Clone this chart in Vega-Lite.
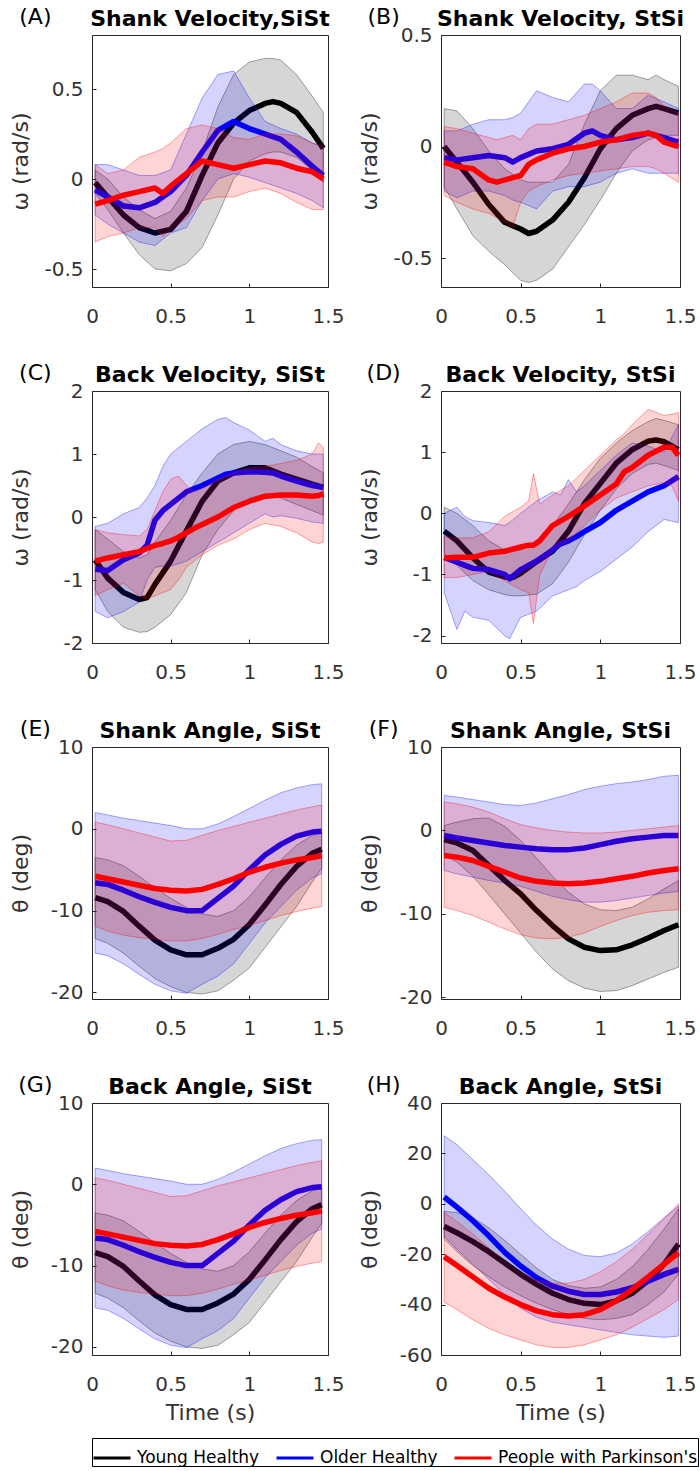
{
"$schema": "https://vega.github.io/schema/vega-lite/v6.json",
"background": "white",
"padding": {"left": 8, "top": 5, "right": 5, "bottom": 2},
"columns": 2,
"spacing": {"row": 104, "column": 113},
"bounds": "flush",
"config": {
 "view": {"stroke": "#262626", "strokeWidth": 1},
 "font": "DejaVu Sans",
 "axis": {"grid": false, "domain": false, "ticks": true, "tickSize": -4, "tickColor": "#262626", "labelFont": "DejaVu Sans", "labelFontSize": 20, "labelColor": "#333333", "titleFont": "DejaVu Sans", "titleFontSize": 22, "titleFontWeight": "normal", "titleColor": "#333333"},
 "axisX": {"labelPadding": 23, "titlePadding": 8, "labelFlush": false, "labelExpr": "format(datum.value, '~g')"},
 "axisY": {"labelPadding": 13, "minExtent": 48, "maxExtent": 48, "titlePadding": 12},
 "legend": {"orient": "bottom", "direction": "horizontal", "symbolType": "stroke", "symbolSize": 1369, "symbolStrokeWidth": 3, "labelFont": "DejaVu Sans", "labelFontSize": 17, "labelColor": "#000000", "labelLimit": 0, "strokeColor": "#000000", "fillColor": "#ffffff", "padding": 0, "columnPadding": 10, "labelOffset": 5, "offset": 14}
},
"datasets": {
"d": [
{"p":"A","g":"Y","t":0.02,"m":-0.02,"lo":-0.08,"hi":0.05},
{"p":"A","g":"Y","t":0.1,"m":-0.1,"lo":-0.17,"hi":0},
{"p":"A","g":"Y","t":0.2,"m":-0.2,"lo":-0.3,"hi":-0.1},
{"p":"A","g":"Y","t":0.3,"m":-0.27,"lo":-0.42,"hi":-0.17},
{"p":"A","g":"Y","t":0.4,"m":-0.3,"lo":-0.5,"hi":-0.22},
{"p":"A","g":"Y","t":0.5,"m":-0.28,"lo":-0.51,"hi":-0.18},
{"p":"A","g":"Y","t":0.6,"m":-0.18,"lo":-0.47,"hi":-0.05},
{"p":"A","g":"Y","t":0.7,"m":0.02,"lo":-0.38,"hi":0.15},
{"p":"A","g":"Y","t":0.8,"m":0.2,"lo":-0.2,"hi":0.4},
{"p":"A","g":"Y","t":0.9,"m":0.31,"lo":0,"hi":0.58},
{"p":"A","g":"Y","t":1.0,"m":0.38,"lo":0.1,"hi":0.65},
{"p":"A","g":"Y","t":1.1,"m":0.42,"lo":0.14,"hi":0.67},
{"p":"A","g":"Y","t":1.15,"m":0.43,"lo":0.15,"hi":0.67},
{"p":"A","g":"Y","t":1.2,"m":0.42,"lo":0.15,"hi":0.66},
{"p":"A","g":"Y","t":1.3,"m":0.37,"lo":0.12,"hi":0.58},
{"p":"A","g":"Y","t":1.4,"m":0.26,"lo":0.05,"hi":0.46},
{"p":"A","g":"Y","t":1.47,"m":0.17,"lo":-0.02,"hi":0.37},
{"p":"A","g":"O","t":0.02,"m":-0.06,"lo":-0.2,"hi":0.08},
{"p":"A","g":"O","t":0.1,"m":-0.1,"lo":-0.25,"hi":0.08},
{"p":"A","g":"O","t":0.2,"m":-0.15,"lo":-0.3,"hi":0.05},
{"p":"A","g":"O","t":0.3,"m":-0.16,"lo":-0.35,"hi":0.02},
{"p":"A","g":"O","t":0.4,"m":-0.13,"lo":-0.37,"hi":0.02},
{"p":"A","g":"O","t":0.5,"m":-0.07,"lo":-0.3,"hi":0.05},
{"p":"A","g":"O","t":0.6,"m":0.02,"lo":-0.27,"hi":0.25},
{"p":"A","g":"O","t":0.7,"m":0.15,"lo":-0.12,"hi":0.45},
{"p":"A","g":"O","t":0.8,"m":0.27,"lo":0,"hi":0.58},
{"p":"A","g":"O","t":0.9,"m":0.32,"lo":0.03,"hi":0.6},
{"p":"A","g":"O","t":1.0,"m":0.28,"lo":0.01,"hi":0.45},
{"p":"A","g":"O","t":1.1,"m":0.25,"lo":-0.02,"hi":0.32},
{"p":"A","g":"O","t":1.2,"m":0.22,"lo":-0.05,"hi":0.28},
{"p":"A","g":"O","t":1.3,"m":0.15,"lo":-0.08,"hi":0.25},
{"p":"A","g":"O","t":1.4,"m":0.07,"lo":-0.12,"hi":0.2},
{"p":"A","g":"O","t":1.47,"m":0.02,"lo":-0.16,"hi":0.18},
{"p":"A","g":"P","t":0.02,"m":-0.14,"lo":-0.35,"hi":0.08},
{"p":"A","g":"P","t":0.1,"m":-0.12,"lo":-0.32,"hi":0.03},
{"p":"A","g":"P","t":0.2,"m":-0.09,"lo":-0.3,"hi":0.05},
{"p":"A","g":"P","t":0.3,"m":-0.07,"lo":-0.27,"hi":0.12},
{"p":"A","g":"P","t":0.4,"m":-0.05,"lo":-0.27,"hi":0.15},
{"p":"A","g":"P","t":0.45,"m":-0.08,"lo":-0.32,"hi":0.17},
{"p":"A","g":"P","t":0.5,"m":-0.04,"lo":-0.28,"hi":0.2},
{"p":"A","g":"P","t":0.6,"m":0.03,"lo":-0.22,"hi":0.28},
{"p":"A","g":"P","t":0.7,"m":0.1,"lo":-0.12,"hi":0.3},
{"p":"A","g":"P","t":0.8,"m":0.08,"lo":-0.1,"hi":0.28},
{"p":"A","g":"P","t":0.9,"m":0.06,"lo":-0.1,"hi":0.23},
{"p":"A","g":"P","t":1.0,"m":0.08,"lo":-0.07,"hi":0.22},
{"p":"A","g":"P","t":1.1,"m":0.1,"lo":-0.05,"hi":0.25},
{"p":"A","g":"P","t":1.2,"m":0.09,"lo":-0.08,"hi":0.25},
{"p":"A","g":"P","t":1.3,"m":0.06,"lo":-0.13,"hi":0.24},
{"p":"A","g":"P","t":1.4,"m":0.04,"lo":-0.17,"hi":0.2},
{"p":"A","g":"P","t":1.47,"m":0,"lo":-0.17,"hi":0.18},
{"p":"B","g":"Y","t":0.02,"m":0,"lo":-0.18,"hi":0.17},
{"p":"B","g":"Y","t":0.1,"m":-0.07,"lo":-0.28,"hi":0.16},
{"p":"B","g":"Y","t":0.2,"m":-0.16,"lo":-0.4,"hi":0.08},
{"p":"B","g":"Y","t":0.3,"m":-0.26,"lo":-0.47,"hi":-0.02},
{"p":"B","g":"Y","t":0.4,"m":-0.34,"lo":-0.53,"hi":-0.1},
{"p":"B","g":"Y","t":0.5,"m":-0.37,"lo":-0.6,"hi":-0.15},
{"p":"B","g":"Y","t":0.55,"m":-0.39,"lo":-0.61,"hi":-0.16},
{"p":"B","g":"Y","t":0.6,"m":-0.38,"lo":-0.6,"hi":-0.16},
{"p":"B","g":"Y","t":0.7,"m":-0.33,"lo":-0.55,"hi":-0.16},
{"p":"B","g":"Y","t":0.8,"m":-0.25,"lo":-0.45,"hi":-0.08},
{"p":"B","g":"Y","t":0.9,"m":-0.14,"lo":-0.35,"hi":0.1},
{"p":"B","g":"Y","t":1.0,"m":-0.01,"lo":-0.24,"hi":0.25},
{"p":"B","g":"Y","t":1.1,"m":0.08,"lo":-0.12,"hi":0.32},
{"p":"B","g":"Y","t":1.2,"m":0.14,"lo":-0.02,"hi":0.32},
{"p":"B","g":"Y","t":1.3,"m":0.17,"lo":0.03,"hi":0.3},
{"p":"B","g":"Y","t":1.35,"m":0.18,"lo":0.04,"hi":0.32},
{"p":"B","g":"Y","t":1.4,"m":0.17,"lo":0.05,"hi":0.3},
{"p":"B","g":"Y","t":1.49,"m":0.15,"lo":0.05,"hi":0.27},
{"p":"B","g":"O","t":0.02,"m":-0.05,"lo":-0.2,"hi":0.07},
{"p":"B","g":"O","t":0.1,"m":-0.06,"lo":-0.23,"hi":0.07},
{"p":"B","g":"O","t":0.2,"m":-0.05,"lo":-0.2,"hi":0.1},
{"p":"B","g":"O","t":0.3,"m":-0.04,"lo":-0.2,"hi":0.12},
{"p":"B","g":"O","t":0.4,"m":-0.05,"lo":-0.22,"hi":0.12},
{"p":"B","g":"O","t":0.45,"m":-0.07,"lo":-0.24,"hi":0.13},
{"p":"B","g":"O","t":0.5,"m":-0.05,"lo":-0.25,"hi":0.15},
{"p":"B","g":"O","t":0.6,"m":-0.02,"lo":-0.28,"hi":0.25},
{"p":"B","g":"O","t":0.7,"m":-0.01,"lo":-0.2,"hi":0.22},
{"p":"B","g":"O","t":0.8,"m":0.01,"lo":-0.18,"hi":0.2},
{"p":"B","g":"O","t":0.9,"m":0.06,"lo":-0.18,"hi":0.28},
{"p":"B","g":"O","t":0.95,"m":0.07,"lo":-0.17,"hi":0.28},
{"p":"B","g":"O","t":1.0,"m":0.05,"lo":-0.16,"hi":0.25},
{"p":"B","g":"O","t":1.1,"m":0.03,"lo":-0.12,"hi":0.17},
{"p":"B","g":"O","t":1.2,"m":0.04,"lo":-0.1,"hi":0.17},
{"p":"B","g":"O","t":1.3,"m":0.06,"lo":-0.12,"hi":0.23},
{"p":"B","g":"O","t":1.4,"m":0.04,"lo":-0.12,"hi":0.2},
{"p":"B","g":"O","t":1.49,"m":0.02,"lo":-0.12,"hi":0.17},
{"p":"B","g":"P","t":0.02,"m":-0.07,"lo":-0.22,"hi":0.09},
{"p":"B","g":"P","t":0.1,"m":-0.09,"lo":-0.25,"hi":0.08},
{"p":"B","g":"P","t":0.2,"m":-0.1,"lo":-0.28,"hi":0.06},
{"p":"B","g":"P","t":0.3,"m":-0.15,"lo":-0.3,"hi":0.04},
{"p":"B","g":"P","t":0.35,"m":-0.16,"lo":-0.32,"hi":0.03},
{"p":"B","g":"P","t":0.45,"m":-0.14,"lo":-0.36,"hi":0.05},
{"p":"B","g":"P","t":0.5,"m":-0.13,"lo":-0.25,"hi":0.03},
{"p":"B","g":"P","t":0.55,"m":-0.08,"lo":-0.2,"hi":0.08},
{"p":"B","g":"P","t":0.6,"m":-0.06,"lo":-0.18,"hi":0.1},
{"p":"B","g":"P","t":0.7,"m":-0.03,"lo":-0.15,"hi":0.1},
{"p":"B","g":"P","t":0.8,"m":-0.01,"lo":-0.13,"hi":0.12},
{"p":"B","g":"P","t":0.9,"m":0,"lo":-0.12,"hi":0.14},
{"p":"B","g":"P","t":1.0,"m":0.02,"lo":-0.11,"hi":0.17},
{"p":"B","g":"P","t":1.1,"m":0.03,"lo":-0.1,"hi":0.2},
{"p":"B","g":"P","t":1.2,"m":0.05,"lo":-0.09,"hi":0.24},
{"p":"B","g":"P","t":1.3,"m":0.06,"lo":-0.09,"hi":0.24},
{"p":"B","g":"P","t":1.35,"m":0.05,"lo":-0.1,"hi":0.22},
{"p":"B","g":"P","t":1.4,"m":0.02,"lo":-0.12,"hi":0.18},
{"p":"B","g":"P","t":1.49,"m":0,"lo":-0.16,"hi":0.15},
{"p":"C","g":"Y","t":0.02,"m":-0.68,"lo":-1.15,"hi":-0.2},
{"p":"C","g":"Y","t":0.1,"m":-0.97,"lo":-1.5,"hi":-0.35},
{"p":"C","g":"Y","t":0.2,"m":-1.2,"lo":-1.75,"hi":-0.55},
{"p":"C","g":"Y","t":0.3,"m":-1.31,"lo":-1.83,"hi":-0.65},
{"p":"C","g":"Y","t":0.35,"m":-1.28,"lo":-1.82,"hi":-0.6},
{"p":"C","g":"Y","t":0.4,"m":-1.07,"lo":-1.75,"hi":-0.4},
{"p":"C","g":"Y","t":0.5,"m":-0.7,"lo":-1.55,"hi":-0.05},
{"p":"C","g":"Y","t":0.6,"m":-0.22,"lo":-1.2,"hi":0.35},
{"p":"C","g":"Y","t":0.7,"m":0.25,"lo":-0.6,"hi":0.7},
{"p":"C","g":"Y","t":0.8,"m":0.57,"lo":-0.2,"hi":1.0},
{"p":"C","g":"Y","t":0.9,"m":0.7,"lo":0.1,"hi":1.15},
{"p":"C","g":"Y","t":1.0,"m":0.78,"lo":0.3,"hi":1.2},
{"p":"C","g":"Y","t":1.1,"m":0.78,"lo":0.35,"hi":1.15},
{"p":"C","g":"Y","t":1.2,"m":0.68,"lo":0.3,"hi":1.05},
{"p":"C","g":"Y","t":1.3,"m":0.6,"lo":0.2,"hi":0.95},
{"p":"C","g":"Y","t":1.4,"m":0.52,"lo":0.1,"hi":0.8},
{"p":"C","g":"Y","t":1.47,"m":0.47,"lo":0.03,"hi":0.7},
{"p":"C","g":"O","t":0.02,"m":-0.83,"lo":-1.5,"hi":-0.15},
{"p":"C","g":"O","t":0.1,"m":-0.85,"lo":-1.6,"hi":-0.1},
{"p":"C","g":"O","t":0.2,"m":-0.68,"lo":-1.5,"hi":0.05},
{"p":"C","g":"O","t":0.3,"m":-0.57,"lo":-1.35,"hi":0.15},
{"p":"C","g":"O","t":0.35,"m":-0.45,"lo":-1.0,"hi":0.3},
{"p":"C","g":"O","t":0.4,"m":-0.05,"lo":-0.8,"hi":0.5},
{"p":"C","g":"O","t":0.45,"m":0.1,"lo":-0.78,"hi":0.8},
{"p":"C","g":"O","t":0.5,"m":0.2,"lo":-0.78,"hi":1.0},
{"p":"C","g":"O","t":0.6,"m":0.4,"lo":-0.7,"hi":1.2},
{"p":"C","g":"O","t":0.7,"m":0.5,"lo":-0.55,"hi":1.4},
{"p":"C","g":"O","t":0.8,"m":0.62,"lo":-0.4,"hi":1.55},
{"p":"C","g":"O","t":0.85,"m":0.68,"lo":-0.33,"hi":1.58},
{"p":"C","g":"O","t":0.9,"m":0.7,"lo":-0.25,"hi":1.5},
{"p":"C","g":"O","t":1.0,"m":0.72,"lo":-0.1,"hi":1.38},
{"p":"C","g":"O","t":1.1,"m":0.71,"lo":0.05,"hi":1.2},
{"p":"C","g":"O","t":1.15,"m":0.7,"lo":0,"hi":1.25},
{"p":"C","g":"O","t":1.2,"m":0.65,"lo":0.02,"hi":1.15},
{"p":"C","g":"O","t":1.3,"m":0.57,"lo":-0.02,"hi":1.05},
{"p":"C","g":"O","t":1.4,"m":0.5,"lo":-0.08,"hi":1.0},
{"p":"C","g":"O","t":1.47,"m":0.47,"lo":-0.1,"hi":1.0},
{"p":"C","g":"P","t":0.02,"m":-0.7,"lo":-1.25,"hi":-0.2},
{"p":"C","g":"P","t":0.1,"m":-0.65,"lo":-1.15,"hi":-0.25},
{"p":"C","g":"P","t":0.2,"m":-0.6,"lo":-1.05,"hi":-0.28},
{"p":"C","g":"P","t":0.3,"m":-0.55,"lo":-1.25,"hi":-0.3},
{"p":"C","g":"P","t":0.35,"m":-0.5,"lo":-1.3,"hi":-0.2},
{"p":"C","g":"P","t":0.4,"m":-0.45,"lo":-1.25,"hi":0.1},
{"p":"C","g":"P","t":0.45,"m":-0.42,"lo":-1.2,"hi":0.4},
{"p":"C","g":"P","t":0.5,"m":-0.38,"lo":-1.15,"hi":0.6},
{"p":"C","g":"P","t":0.55,"m":-0.32,"lo":-1.0,"hi":0.65},
{"p":"C","g":"P","t":0.6,"m":-0.25,"lo":-0.8,"hi":0.5},
{"p":"C","g":"P","t":0.65,"m":-0.18,"lo":-0.7,"hi":0.4},
{"p":"C","g":"P","t":0.7,"m":-0.12,"lo":-0.6,"hi":0.45},
{"p":"C","g":"P","t":0.8,"m":0,"lo":-0.45,"hi":0.6},
{"p":"C","g":"P","t":0.9,"m":0.15,"lo":-0.35,"hi":0.7},
{"p":"C","g":"P","t":1.0,"m":0.25,"lo":-0.2,"hi":0.78},
{"p":"C","g":"P","t":1.1,"m":0.33,"lo":-0.1,"hi":0.8},
{"p":"C","g":"P","t":1.2,"m":0.35,"lo":-0.15,"hi":0.85},
{"p":"C","g":"P","t":1.3,"m":0.35,"lo":-0.25,"hi":0.9},
{"p":"C","g":"P","t":1.4,"m":0.33,"lo":-0.4,"hi":1.0},
{"p":"C","g":"P","t":1.44,"m":0.34,"lo":-0.42,"hi":1.18},
{"p":"C","g":"P","t":1.47,"m":0.37,"lo":-0.4,"hi":1.1},
{"p":"D","g":"Y","t":0.02,"m":-0.29,"lo":-0.65,"hi":0.1},
{"p":"D","g":"Y","t":0.1,"m":-0.45,"lo":-0.85,"hi":0},
{"p":"D","g":"Y","t":0.2,"m":-0.73,"lo":-1.1,"hi":-0.2},
{"p":"D","g":"Y","t":0.3,"m":-0.96,"lo":-1.25,"hi":-0.45},
{"p":"D","g":"Y","t":0.4,"m":-1.04,"lo":-1.33,"hi":-0.6},
{"p":"D","g":"Y","t":0.45,"m":-1.05,"lo":-1.35,"hi":-0.62},
{"p":"D","g":"Y","t":0.5,"m":-0.98,"lo":-1.35,"hi":-0.6},
{"p":"D","g":"Y","t":0.6,"m":-0.79,"lo":-1.32,"hi":-0.45},
{"p":"D","g":"Y","t":0.7,"m":-0.62,"lo":-1.15,"hi":-0.2},
{"p":"D","g":"Y","t":0.8,"m":-0.29,"lo":-0.8,"hi":0.15},
{"p":"D","g":"Y","t":0.9,"m":0.16,"lo":-0.35,"hi":0.55},
{"p":"D","g":"Y","t":1.0,"m":0.49,"lo":0.05,"hi":0.9},
{"p":"D","g":"Y","t":1.1,"m":0.82,"lo":0.4,"hi":1.15},
{"p":"D","g":"Y","t":1.2,"m":1.04,"lo":0.65,"hi":1.35},
{"p":"D","g":"Y","t":1.3,"m":1.18,"lo":0.8,"hi":1.5},
{"p":"D","g":"Y","t":1.35,"m":1.2,"lo":0.82,"hi":1.55},
{"p":"D","g":"Y","t":1.4,"m":1.17,"lo":0.78,"hi":1.52},
{"p":"D","g":"Y","t":1.49,"m":1.04,"lo":0.7,"hi":1.45},
{"p":"D","g":"O","t":0.02,"m":-0.72,"lo":-1.3,"hi":0},
{"p":"D","g":"O","t":0.1,"m":-0.8,"lo":-1.9,"hi":0.1},
{"p":"D","g":"O","t":0.15,"m":-0.85,"lo":-1.6,"hi":-0.05},
{"p":"D","g":"O","t":0.2,"m":-0.9,"lo":-1.7,"hi":-0.12},
{"p":"D","g":"O","t":0.3,"m":-0.92,"lo":-1.75,"hi":-0.15},
{"p":"D","g":"O","t":0.4,"m":-1.0,"lo":-2.0,"hi":-0.2},
{"p":"D","g":"O","t":0.43,"m":-1.07,"lo":-2.05,"hi":-0.15},
{"p":"D","g":"O","t":0.5,"m":-0.92,"lo":-1.7,"hi":0},
{"p":"D","g":"O","t":0.6,"m":-0.78,"lo":-1.6,"hi":0.2},
{"p":"D","g":"O","t":0.7,"m":-0.6,"lo":-1.35,"hi":0.35},
{"p":"D","g":"O","t":0.75,"m":-0.5,"lo":-1.3,"hi":0.3},
{"p":"D","g":"O","t":0.8,"m":-0.45,"lo":-1.25,"hi":0.55},
{"p":"D","g":"O","t":0.85,"m":-0.38,"lo":-1.2,"hi":0.35},
{"p":"D","g":"O","t":0.9,"m":-0.3,"lo":-1.1,"hi":0.45},
{"p":"D","g":"O","t":1.0,"m":-0.15,"lo":-0.95,"hi":0.7},
{"p":"D","g":"O","t":1.1,"m":0.05,"lo":-0.75,"hi":0.95},
{"p":"D","g":"O","t":1.2,"m":0.2,"lo":-0.55,"hi":1.15},
{"p":"D","g":"O","t":1.3,"m":0.35,"lo":-0.3,"hi":1.1},
{"p":"D","g":"O","t":1.4,"m":0.45,"lo":-0.1,"hi":1.0},
{"p":"D","g":"O","t":1.49,"m":0.6,"lo":-0.15,"hi":1.45},
{"p":"D","g":"P","t":0.02,"m":-0.73,"lo":-1.05,"hi":-0.38},
{"p":"D","g":"P","t":0.1,"m":-0.72,"lo":-1.05,"hi":-0.4},
{"p":"D","g":"P","t":0.2,"m":-0.72,"lo":-1.0,"hi":-0.4},
{"p":"D","g":"P","t":0.3,"m":-0.65,"lo":-0.95,"hi":-0.3},
{"p":"D","g":"P","t":0.4,"m":-0.62,"lo":-1.1,"hi":-0.05},
{"p":"D","g":"P","t":0.5,"m":-0.55,"lo":-1.25,"hi":0.1},
{"p":"D","g":"P","t":0.55,"m":-0.52,"lo":-1.3,"hi":0.2},
{"p":"D","g":"P","t":0.58,"m":-0.52,"lo":-1.8,"hi":0.65},
{"p":"D","g":"P","t":0.62,"m":-0.45,"lo":-1.0,"hi":0.15},
{"p":"D","g":"P","t":0.7,"m":-0.2,"lo":-0.6,"hi":0.3},
{"p":"D","g":"P","t":0.8,"m":-0.05,"lo":-0.45,"hi":0.45},
{"p":"D","g":"P","t":0.9,"m":0.12,"lo":-0.2,"hi":0.7},
{"p":"D","g":"P","t":1.0,"m":0.3,"lo":0.05,"hi":0.95},
{"p":"D","g":"P","t":1.1,"m":0.48,"lo":0.25,"hi":1.2},
{"p":"D","g":"P","t":1.15,"m":0.68,"lo":0.3,"hi":1.3},
{"p":"D","g":"P","t":1.2,"m":0.75,"lo":0.35,"hi":1.45},
{"p":"D","g":"P","t":1.3,"m":0.95,"lo":0.45,"hi":1.7},
{"p":"D","g":"P","t":1.4,"m":1.08,"lo":0.5,"hi":1.6},
{"p":"D","g":"P","t":1.45,"m":1.08,"lo":0.45,"hi":1.62},
{"p":"D","g":"P","t":1.49,"m":0.95,"lo":0.2,"hi":1.65},
{"p":"E","g":"Y","t":0.02,"m":-8.4,"lo":-13.4,"hi":-3.5},
{"p":"E","g":"Y","t":0.1,"m":-8.9,"lo":-14.0,"hi":-3.8},
{"p":"E","g":"Y","t":0.2,"m":-10.1,"lo":-15.2,"hi":-4.5},
{"p":"E","g":"Y","t":0.3,"m":-11.9,"lo":-16.8,"hi":-5.8},
{"p":"E","g":"Y","t":0.4,"m":-13.6,"lo":-18.3,"hi":-7.2},
{"p":"E","g":"Y","t":0.5,"m":-14.8,"lo":-19.3,"hi":-8.5},
{"p":"E","g":"Y","t":0.6,"m":-15.4,"lo":-20.0,"hi":-9.6},
{"p":"E","g":"Y","t":0.7,"m":-15.4,"lo":-20.2,"hi":-10.4},
{"p":"E","g":"Y","t":0.8,"m":-14.6,"lo":-19.8,"hi":-10.7},
{"p":"E","g":"Y","t":0.9,"m":-13.5,"lo":-18.5,"hi":-10.0},
{"p":"E","g":"Y","t":1.0,"m":-11.7,"lo":-17.0,"hi":-8.3},
{"p":"E","g":"Y","t":1.1,"m":-9.3,"lo":-14.5,"hi":-6.0},
{"p":"E","g":"Y","t":1.2,"m":-6.8,"lo":-12.0,"hi":-3.8},
{"p":"E","g":"Y","t":1.3,"m":-4.6,"lo":-9.5,"hi":-2.0},
{"p":"E","g":"Y","t":1.4,"m":-3.0,"lo":-6.5,"hi":-0.8},
{"p":"E","g":"Y","t":1.46,"m":-2.5,"lo":-4.8,"hi":-0.5},
{"p":"E","g":"O","t":0.02,"m":-6.6,"lo":-15.2,"hi":2.0},
{"p":"E","g":"O","t":0.1,"m":-6.8,"lo":-15.5,"hi":1.7},
{"p":"E","g":"O","t":0.2,"m":-7.5,"lo":-16.5,"hi":1.3},
{"p":"E","g":"O","t":0.3,"m":-8.3,"lo":-17.8,"hi":1.0},
{"p":"E","g":"O","t":0.4,"m":-9.0,"lo":-19.0,"hi":0.7},
{"p":"E","g":"O","t":0.5,"m":-9.6,"lo":-19.8,"hi":0.4},
{"p":"E","g":"O","t":0.6,"m":-10.0,"lo":-20.1,"hi":0},
{"p":"E","g":"O","t":0.7,"m":-10.0,"lo":-19.0,"hi":0},
{"p":"E","g":"O","t":0.8,"m":-8.5,"lo":-18.0,"hi":0.6},
{"p":"E","g":"O","t":0.9,"m":-7.0,"lo":-16.5,"hi":1.5},
{"p":"E","g":"O","t":1.0,"m":-5.0,"lo":-14.0,"hi":2.5},
{"p":"E","g":"O","t":1.1,"m":-3.2,"lo":-11.5,"hi":3.5},
{"p":"E","g":"O","t":1.2,"m":-1.9,"lo":-9.5,"hi":4.4},
{"p":"E","g":"O","t":1.3,"m":-0.9,"lo":-7.5,"hi":5.0},
{"p":"E","g":"O","t":1.4,"m":-0.4,"lo":-6.0,"hi":5.4},
{"p":"E","g":"O","t":1.46,"m":-0.3,"lo":-5.5,"hi":5.5},
{"p":"E","g":"P","t":0.02,"m":-5.8,"lo":-11.9,"hi":0.8},
{"p":"E","g":"P","t":0.1,"m":-6.1,"lo":-12.5,"hi":0.5},
{"p":"E","g":"P","t":0.2,"m":-6.5,"lo":-13.0,"hi":0},
{"p":"E","g":"P","t":0.3,"m":-6.9,"lo":-13.3,"hi":-0.5},
{"p":"E","g":"P","t":0.4,"m":-7.3,"lo":-13.5,"hi":-1.0},
{"p":"E","g":"P","t":0.5,"m":-7.5,"lo":-13.7,"hi":-1.5},
{"p":"E","g":"P","t":0.6,"m":-7.6,"lo":-13.7,"hi":-1.4},
{"p":"E","g":"P","t":0.7,"m":-7.4,"lo":-13.4,"hi":-0.8},
{"p":"E","g":"P","t":0.8,"m":-6.8,"lo":-12.9,"hi":-0.2},
{"p":"E","g":"P","t":0.9,"m":-6.1,"lo":-12.3,"hi":0.3},
{"p":"E","g":"P","t":1.0,"m":-5.3,"lo":-11.8,"hi":0.8},
{"p":"E","g":"P","t":1.1,"m":-4.7,"lo":-11.2,"hi":1.3},
{"p":"E","g":"P","t":1.2,"m":-4.2,"lo":-10.6,"hi":1.8},
{"p":"E","g":"P","t":1.3,"m":-3.8,"lo":-10.1,"hi":2.3},
{"p":"E","g":"P","t":1.4,"m":-3.5,"lo":-9.7,"hi":2.7},
{"p":"E","g":"P","t":1.46,"m":-3.3,"lo":-9.5,"hi":2.9},
{"p":"F","g":"Y","t":0.02,"m":-1.1,"lo":-3.0,"hi":0.6},
{"p":"F","g":"Y","t":0.1,"m":-1.5,"lo":-3.8,"hi":1.0},
{"p":"F","g":"Y","t":0.2,"m":-2.4,"lo":-5.5,"hi":1.4},
{"p":"F","g":"Y","t":0.3,"m":-4.2,"lo":-7.7,"hi":1.5},
{"p":"F","g":"Y","t":0.4,"m":-6.0,"lo":-10.0,"hi":0.5},
{"p":"F","g":"Y","t":0.5,"m":-7.6,"lo":-12.3,"hi":-1.2},
{"p":"F","g":"Y","t":0.6,"m":-9.6,"lo":-14.6,"hi":-3.3},
{"p":"F","g":"Y","t":0.7,"m":-11.4,"lo":-16.6,"hi":-5.5},
{"p":"F","g":"Y","t":0.8,"m":-13.0,"lo":-18.0,"hi":-7.4},
{"p":"F","g":"Y","t":0.9,"m":-14.0,"lo":-18.9,"hi":-8.8},
{"p":"F","g":"Y","t":1.0,"m":-14.4,"lo":-19.3,"hi":-9.5},
{"p":"F","g":"Y","t":1.1,"m":-14.3,"lo":-19.2,"hi":-9.6},
{"p":"F","g":"Y","t":1.2,"m":-13.7,"lo":-18.6,"hi":-9.2},
{"p":"F","g":"Y","t":1.3,"m":-12.9,"lo":-17.8,"hi":-8.2},
{"p":"F","g":"Y","t":1.4,"m":-12.0,"lo":-17.0,"hi":-7.0},
{"p":"F","g":"Y","t":1.49,"m":-11.3,"lo":-16.4,"hi":-6.0},
{"p":"F","g":"O","t":0.02,"m":-0.6,"lo":-4.8,"hi":4.2},
{"p":"F","g":"O","t":0.1,"m":-0.9,"lo":-5.2,"hi":4.0},
{"p":"F","g":"O","t":0.2,"m":-1.2,"lo":-5.6,"hi":3.7},
{"p":"F","g":"O","t":0.3,"m":-1.5,"lo":-6.0,"hi":3.4},
{"p":"F","g":"O","t":0.4,"m":-1.8,"lo":-6.3,"hi":3.1},
{"p":"F","g":"O","t":0.5,"m":-2.0,"lo":-6.7,"hi":3.0},
{"p":"F","g":"O","t":0.6,"m":-2.2,"lo":-7.3,"hi":3.3},
{"p":"F","g":"O","t":0.7,"m":-2.3,"lo":-7.9,"hi":3.8},
{"p":"F","g":"O","t":0.8,"m":-2.3,"lo":-8.3,"hi":4.3},
{"p":"F","g":"O","t":0.9,"m":-2.1,"lo":-8.6,"hi":4.9},
{"p":"F","g":"O","t":1.0,"m":-1.7,"lo":-8.6,"hi":5.3},
{"p":"F","g":"O","t":1.1,"m":-1.3,"lo":-8.4,"hi":5.6},
{"p":"F","g":"O","t":1.2,"m":-1.0,"lo":-8.1,"hi":5.8},
{"p":"F","g":"O","t":1.3,"m":-0.8,"lo":-7.8,"hi":6.1},
{"p":"F","g":"O","t":1.4,"m":-0.6,"lo":-7.5,"hi":6.5},
{"p":"F","g":"O","t":1.49,"m":-0.6,"lo":-7.3,"hi":6.6},
{"p":"F","g":"P","t":0.02,"m":-3.0,"lo":-9.2,"hi":3.4},
{"p":"F","g":"P","t":0.1,"m":-3.2,"lo":-9.6,"hi":3.2},
{"p":"F","g":"P","t":0.2,"m":-3.6,"lo":-10.2,"hi":2.8},
{"p":"F","g":"P","t":0.3,"m":-4.3,"lo":-11.0,"hi":2.2},
{"p":"F","g":"P","t":0.4,"m":-5.0,"lo":-11.8,"hi":1.4},
{"p":"F","g":"P","t":0.5,"m":-5.7,"lo":-12.5,"hi":0.7},
{"p":"F","g":"P","t":0.6,"m":-6.1,"lo":-12.9,"hi":0.3},
{"p":"F","g":"P","t":0.7,"m":-6.3,"lo":-13.0,"hi":0},
{"p":"F","g":"P","t":0.8,"m":-6.4,"lo":-12.8,"hi":-0.2},
{"p":"F","g":"P","t":0.9,"m":-6.3,"lo":-12.3,"hi":-0.3},
{"p":"F","g":"P","t":1.0,"m":-6.1,"lo":-11.5,"hi":-0.3},
{"p":"F","g":"P","t":1.1,"m":-5.8,"lo":-10.8,"hi":-0.2},
{"p":"F","g":"P","t":1.2,"m":-5.5,"lo":-10.2,"hi":0},
{"p":"F","g":"P","t":1.3,"m":-5.1,"lo":-9.8,"hi":0.2},
{"p":"F","g":"P","t":1.4,"m":-4.8,"lo":-9.6,"hi":0.4},
{"p":"F","g":"P","t":1.49,"m":-4.6,"lo":-9.5,"hi":0.6},
{"p":"G","g":"Y","t":0.02,"m":-8.4,"lo":-13.4,"hi":-3.5},
{"p":"G","g":"Y","t":0.1,"m":-8.9,"lo":-14.0,"hi":-3.8},
{"p":"G","g":"Y","t":0.2,"m":-10.1,"lo":-15.2,"hi":-4.5},
{"p":"G","g":"Y","t":0.3,"m":-11.9,"lo":-16.8,"hi":-5.8},
{"p":"G","g":"Y","t":0.4,"m":-13.6,"lo":-18.3,"hi":-7.2},
{"p":"G","g":"Y","t":0.5,"m":-14.8,"lo":-19.3,"hi":-8.5},
{"p":"G","g":"Y","t":0.6,"m":-15.4,"lo":-20.0,"hi":-9.6},
{"p":"G","g":"Y","t":0.7,"m":-15.4,"lo":-20.2,"hi":-10.4},
{"p":"G","g":"Y","t":0.8,"m":-14.6,"lo":-19.8,"hi":-10.7},
{"p":"G","g":"Y","t":0.9,"m":-13.5,"lo":-18.5,"hi":-10.0},
{"p":"G","g":"Y","t":1.0,"m":-11.7,"lo":-17.0,"hi":-8.3},
{"p":"G","g":"Y","t":1.1,"m":-9.3,"lo":-14.5,"hi":-6.0},
{"p":"G","g":"Y","t":1.2,"m":-6.8,"lo":-12.0,"hi":-3.8},
{"p":"G","g":"Y","t":1.3,"m":-4.6,"lo":-9.5,"hi":-2.0},
{"p":"G","g":"Y","t":1.4,"m":-3.0,"lo":-6.5,"hi":-0.8},
{"p":"G","g":"Y","t":1.46,"m":-2.5,"lo":-4.8,"hi":-0.5},
{"p":"G","g":"O","t":0.02,"m":-6.6,"lo":-15.2,"hi":2.0},
{"p":"G","g":"O","t":0.1,"m":-6.8,"lo":-15.5,"hi":1.7},
{"p":"G","g":"O","t":0.2,"m":-7.5,"lo":-16.5,"hi":1.3},
{"p":"G","g":"O","t":0.3,"m":-8.3,"lo":-17.8,"hi":1.0},
{"p":"G","g":"O","t":0.4,"m":-9.0,"lo":-19.0,"hi":0.7},
{"p":"G","g":"O","t":0.5,"m":-9.6,"lo":-19.8,"hi":0.4},
{"p":"G","g":"O","t":0.6,"m":-10.0,"lo":-20.1,"hi":0},
{"p":"G","g":"O","t":0.7,"m":-10.0,"lo":-19.0,"hi":0},
{"p":"G","g":"O","t":0.8,"m":-8.5,"lo":-18.0,"hi":0.6},
{"p":"G","g":"O","t":0.9,"m":-7.0,"lo":-16.5,"hi":1.5},
{"p":"G","g":"O","t":1.0,"m":-5.0,"lo":-14.0,"hi":2.5},
{"p":"G","g":"O","t":1.1,"m":-3.2,"lo":-11.5,"hi":3.5},
{"p":"G","g":"O","t":1.2,"m":-1.9,"lo":-9.5,"hi":4.4},
{"p":"G","g":"O","t":1.3,"m":-0.9,"lo":-7.5,"hi":5.0},
{"p":"G","g":"O","t":1.4,"m":-0.4,"lo":-6.0,"hi":5.4},
{"p":"G","g":"O","t":1.46,"m":-0.3,"lo":-5.5,"hi":5.5},
{"p":"G","g":"P","t":0.02,"m":-5.8,"lo":-11.9,"hi":0.8},
{"p":"G","g":"P","t":0.1,"m":-6.1,"lo":-12.5,"hi":0.5},
{"p":"G","g":"P","t":0.2,"m":-6.5,"lo":-13.0,"hi":0},
{"p":"G","g":"P","t":0.3,"m":-6.9,"lo":-13.3,"hi":-0.5},
{"p":"G","g":"P","t":0.4,"m":-7.3,"lo":-13.5,"hi":-1.0},
{"p":"G","g":"P","t":0.5,"m":-7.5,"lo":-13.7,"hi":-1.5},
{"p":"G","g":"P","t":0.6,"m":-7.6,"lo":-13.7,"hi":-1.4},
{"p":"G","g":"P","t":0.7,"m":-7.4,"lo":-13.4,"hi":-0.8},
{"p":"G","g":"P","t":0.8,"m":-6.8,"lo":-12.9,"hi":-0.2},
{"p":"G","g":"P","t":0.9,"m":-6.1,"lo":-12.3,"hi":0.3},
{"p":"G","g":"P","t":1.0,"m":-5.3,"lo":-11.8,"hi":0.8},
{"p":"G","g":"P","t":1.1,"m":-4.7,"lo":-11.2,"hi":1.3},
{"p":"G","g":"P","t":1.2,"m":-4.2,"lo":-10.6,"hi":1.8},
{"p":"G","g":"P","t":1.3,"m":-3.8,"lo":-10.1,"hi":2.3},
{"p":"G","g":"P","t":1.4,"m":-3.5,"lo":-9.7,"hi":2.7},
{"p":"G","g":"P","t":1.46,"m":-3.3,"lo":-9.5,"hi":2.9},
{"p":"H","g":"Y","t":0.02,"m":-9,"lo":-14,"hi":-3},
{"p":"H","g":"Y","t":0.1,"m":-11.5,"lo":-19,"hi":-3.5},
{"p":"H","g":"Y","t":0.2,"m":-15,"lo":-24.5,"hi":-5.5},
{"p":"H","g":"Y","t":0.3,"m":-19,"lo":-29,"hi":-9.5},
{"p":"H","g":"Y","t":0.4,"m":-23.5,"lo":-33,"hi":-14.5},
{"p":"H","g":"Y","t":0.5,"m":-28,"lo":-36.5,"hi":-20},
{"p":"H","g":"Y","t":0.6,"m":-32,"lo":-39.5,"hi":-25.5},
{"p":"H","g":"Y","t":0.7,"m":-35.5,"lo":-42,"hi":-30},
{"p":"H","g":"Y","t":0.8,"m":-38,"lo":-44,"hi":-32.5},
{"p":"H","g":"Y","t":0.9,"m":-39.5,"lo":-45.5,"hi":-33.5},
{"p":"H","g":"Y","t":1.0,"m":-40,"lo":-46,"hi":-33},
{"p":"H","g":"Y","t":1.1,"m":-38.5,"lo":-45.5,"hi":-30},
{"p":"H","g":"Y","t":1.2,"m":-35.5,"lo":-44,"hi":-25},
{"p":"H","g":"Y","t":1.3,"m":-30.5,"lo":-40,"hi":-18},
{"p":"H","g":"Y","t":1.4,"m":-24,"lo":-35,"hi":-10},
{"p":"H","g":"Y","t":1.49,"m":-16,"lo":-28,"hi":-2},
{"p":"H","g":"O","t":0.02,"m":2.7,"lo":-13,"hi":27},
{"p":"H","g":"O","t":0.1,"m":-1.3,"lo":-18,"hi":23.5},
{"p":"H","g":"O","t":0.2,"m":-6.7,"lo":-24,"hi":17.5},
{"p":"H","g":"O","t":0.3,"m":-12.7,"lo":-30,"hi":11.5},
{"p":"H","g":"O","t":0.4,"m":-19.3,"lo":-36,"hi":5},
{"p":"H","g":"O","t":0.5,"m":-24.7,"lo":-41.5,"hi":-2},
{"p":"H","g":"O","t":0.6,"m":-29.3,"lo":-45,"hi":-8.5},
{"p":"H","g":"O","t":0.7,"m":-32.7,"lo":-47,"hi":-14},
{"p":"H","g":"O","t":0.8,"m":-34.7,"lo":-48,"hi":-18},
{"p":"H","g":"O","t":0.9,"m":-36,"lo":-49,"hi":-20.5},
{"p":"H","g":"O","t":1.0,"m":-36,"lo":-50,"hi":-21},
{"p":"H","g":"O","t":1.1,"m":-35,"lo":-51,"hi":-19.5},
{"p":"H","g":"O","t":1.2,"m":-33.3,"lo":-52,"hi":-16},
{"p":"H","g":"O","t":1.3,"m":-30.7,"lo":-52.5,"hi":-11},
{"p":"H","g":"O","t":1.4,"m":-28,"lo":-53,"hi":-5.5},
{"p":"H","g":"O","t":1.49,"m":-26,"lo":-52.5,"hi":-1},
{"p":"H","g":"P","t":0.02,"m":-21,"lo":-39,"hi":-3.5},
{"p":"H","g":"P","t":0.1,"m":-24.5,"lo":-42,"hi":-7},
{"p":"H","g":"P","t":0.2,"m":-29,"lo":-46,"hi":-12},
{"p":"H","g":"P","t":0.3,"m":-33.5,"lo":-49.5,"hi":-17.5},
{"p":"H","g":"P","t":0.4,"m":-37,"lo":-52,"hi":-23},
{"p":"H","g":"P","t":0.5,"m":-40,"lo":-54,"hi":-27.5},
{"p":"H","g":"P","t":0.6,"m":-42.5,"lo":-56,"hi":-30.5},
{"p":"H","g":"P","t":0.7,"m":-44,"lo":-57,"hi":-31.5},
{"p":"H","g":"P","t":0.8,"m":-44.5,"lo":-57,"hi":-31.5},
{"p":"H","g":"P","t":0.9,"m":-44,"lo":-56,"hi":-30},
{"p":"H","g":"P","t":1.0,"m":-42,"lo":-54,"hi":-27},
{"p":"H","g":"P","t":1.1,"m":-38.5,"lo":-52,"hi":-23},
{"p":"H","g":"P","t":1.2,"m":-34,"lo":-49,"hi":-18},
{"p":"H","g":"P","t":1.3,"m":-29,"lo":-45.5,"hi":-12},
{"p":"H","g":"P","t":1.4,"m":-24,"lo":-42,"hi":-6},
{"p":"H","g":"P","t":1.49,"m":-19.5,"lo":-38,"hi":0}
]
},
"concat": [
{"width": 236, "height": 252, "data": {"name": "d"}, "transform": [{"filter": "datum.p=='A'"}],
 "layer": [
  {"transform": [{"filter": "datum.g=='Y'"}], "mark": {"type": "area", "fill": "#000000", "fillOpacity": 0.16, "stroke": "#000000", "strokeOpacity": 0.35, "strokeWidth": 1}, "encoding": {"x": {"field": "t", "type": "quantitative", "scale": {"domain": [0, 1.5], "nice": false}, "axis": {"values": [0, 0.5, 1, 1.5], "title": null}}, "y": {"field": "lo", "type": "quantitative", "scale": {"domain": [-0.6, 0.8], "nice": false, "zero": false}, "axis": {"values": [-0.5, 0, 0.5], "title": "ω (rad/s)", "labelExpr": "datum.value < 0 ? '-' + format(-datum.value, '~g') : format(datum.value, '~g')"}}, "y2": {"field": "hi"}}},
  {"transform": [{"filter": "datum.g=='Y'"}], "mark": {"type": "line", "strokeWidth": 5.5, "strokeJoin": "round"}, "encoding": {"x": {"field": "t", "type": "quantitative", "scale": {"domain": [0, 1.5], "nice": false}}, "y": {"field": "m", "type": "quantitative", "scale": {"domain": [-0.6, 0.8], "nice": false, "zero": false}}, "color": {"field": "g", "type": "nominal", "scale": {"domain": ["Y", "O", "P"], "range": ["#000000", "#0000ff", "#ff0000"]}, "legend": {"title": null, "labelExpr": "datum.label == 'Y' ? 'Young Healthy' : datum.label == 'O' ? 'Older Healthy' : \"People with Parkinson's\""}}}},
  {"transform": [{"filter": "datum.g=='O'"}], "mark": {"type": "area", "fill": "#0000ff", "fillOpacity": 0.17, "stroke": "#0000ff", "strokeOpacity": 0.35, "strokeWidth": 1}, "encoding": {"x": {"field": "t", "type": "quantitative", "scale": {"domain": [0, 1.5], "nice": false}}, "y": {"field": "lo", "type": "quantitative", "scale": {"domain": [-0.6, 0.8], "nice": false, "zero": false}}, "y2": {"field": "hi"}}},
  {"transform": [{"filter": "datum.g=='O'"}], "mark": {"type": "line", "strokeWidth": 5.5, "strokeJoin": "round"}, "encoding": {"x": {"field": "t", "type": "quantitative", "scale": {"domain": [0, 1.5], "nice": false}}, "y": {"field": "m", "type": "quantitative", "scale": {"domain": [-0.6, 0.8], "nice": false, "zero": false}}, "color": {"field": "g", "type": "nominal", "scale": {"domain": ["Y", "O", "P"], "range": ["#000000", "#0000ff", "#ff0000"]}, "legend": {"title": null, "labelExpr": "datum.label == 'Y' ? 'Young Healthy' : datum.label == 'O' ? 'Older Healthy' : \"People with Parkinson's\""}}}},
  {"transform": [{"filter": "datum.g=='P'"}], "mark": {"type": "area", "fill": "#ff0000", "fillOpacity": 0.17, "stroke": "#ff0000", "strokeOpacity": 0.35, "strokeWidth": 1}, "encoding": {"x": {"field": "t", "type": "quantitative", "scale": {"domain": [0, 1.5], "nice": false}}, "y": {"field": "lo", "type": "quantitative", "scale": {"domain": [-0.6, 0.8], "nice": false, "zero": false}}, "y2": {"field": "hi"}}},
  {"transform": [{"filter": "datum.g=='P'"}], "mark": {"type": "line", "strokeWidth": 5.5, "strokeJoin": "round"}, "encoding": {"x": {"field": "t", "type": "quantitative", "scale": {"domain": [0, 1.5], "nice": false}}, "y": {"field": "m", "type": "quantitative", "scale": {"domain": [-0.6, 0.8], "nice": false, "zero": false}}, "color": {"field": "g", "type": "nominal", "scale": {"domain": ["Y", "O", "P"], "range": ["#000000", "#0000ff", "#ff0000"]}, "legend": {"title": null, "labelExpr": "datum.label == 'Y' ? 'Young Healthy' : datum.label == 'O' ? 'Older Healthy' : \"People with Parkinson's\""}}}},
  {"transform": [{"aggregate": [{"op": "count", "as": "n"}]}], "mark": {"type": "text", "font": "DejaVu Sans", "fontSize": 22, "color": "#000000", "align": "center", "baseline": "alphabetic", "dy": -11, "clip": false}, "encoding": {"x": {"datum": -0.36, "type": "quantitative", "scale": {"domain": [0, 1.5], "nice": false}}, "y": {"datum": 0.8, "type": "quantitative", "scale": {"domain": [-0.6, 0.8], "nice": false, "zero": false}}, "text": {"value": "(A)"}}},
  {"transform": [{"aggregate": [{"op": "count", "as": "n"}]}], "mark": {"type": "text", "font": "DejaVu Sans", "fontSize": 22, "fontWeight": "bold", "color": "#000000", "align": "center", "baseline": "alphabetic", "dy": -9, "clip": false}, "encoding": {"x": {"datum": 0.75, "type": "quantitative", "scale": {"domain": [0, 1.5], "nice": false}}, "y": {"datum": 0.8, "type": "quantitative", "scale": {"domain": [-0.6, 0.8], "nice": false, "zero": false}}, "text": {"value": "Shank Velocity,SiSt"}}}
 ]},
{"width": 239, "height": 252, "data": {"name": "d"}, "transform": [{"filter": "datum.p=='B'"}],
 "layer": [
  {"transform": [{"filter": "datum.g=='Y'"}], "mark": {"type": "area", "fill": "#000000", "fillOpacity": 0.16, "stroke": "#000000", "strokeOpacity": 0.35, "strokeWidth": 1}, "encoding": {"x": {"field": "t", "type": "quantitative", "scale": {"domain": [0, 1.5], "nice": false}, "axis": {"values": [0, 0.5, 1, 1.5], "title": null}}, "y": {"field": "lo", "type": "quantitative", "scale": {"domain": [-0.63, 0.5], "nice": false, "zero": false}, "axis": {"values": [-0.5, 0, 0.5], "title": "ω (rad/s)", "labelExpr": "datum.value < 0 ? '-' + format(-datum.value, '~g') : format(datum.value, '~g')"}}, "y2": {"field": "hi"}}},
  {"transform": [{"filter": "datum.g=='Y'"}], "mark": {"type": "line", "strokeWidth": 5.5, "strokeJoin": "round"}, "encoding": {"x": {"field": "t", "type": "quantitative", "scale": {"domain": [0, 1.5], "nice": false}}, "y": {"field": "m", "type": "quantitative", "scale": {"domain": [-0.63, 0.5], "nice": false, "zero": false}}, "color": {"field": "g", "type": "nominal", "scale": {"domain": ["Y", "O", "P"], "range": ["#000000", "#0000ff", "#ff0000"]}, "legend": {"title": null, "labelExpr": "datum.label == 'Y' ? 'Young Healthy' : datum.label == 'O' ? 'Older Healthy' : \"People with Parkinson's\""}}}},
  {"transform": [{"filter": "datum.g=='O'"}], "mark": {"type": "area", "fill": "#0000ff", "fillOpacity": 0.17, "stroke": "#0000ff", "strokeOpacity": 0.35, "strokeWidth": 1}, "encoding": {"x": {"field": "t", "type": "quantitative", "scale": {"domain": [0, 1.5], "nice": false}}, "y": {"field": "lo", "type": "quantitative", "scale": {"domain": [-0.63, 0.5], "nice": false, "zero": false}}, "y2": {"field": "hi"}}},
  {"transform": [{"filter": "datum.g=='O'"}], "mark": {"type": "line", "strokeWidth": 5.5, "strokeJoin": "round"}, "encoding": {"x": {"field": "t", "type": "quantitative", "scale": {"domain": [0, 1.5], "nice": false}}, "y": {"field": "m", "type": "quantitative", "scale": {"domain": [-0.63, 0.5], "nice": false, "zero": false}}, "color": {"field": "g", "type": "nominal", "scale": {"domain": ["Y", "O", "P"], "range": ["#000000", "#0000ff", "#ff0000"]}, "legend": {"title": null, "labelExpr": "datum.label == 'Y' ? 'Young Healthy' : datum.label == 'O' ? 'Older Healthy' : \"People with Parkinson's\""}}}},
  {"transform": [{"filter": "datum.g=='P'"}], "mark": {"type": "area", "fill": "#ff0000", "fillOpacity": 0.17, "stroke": "#ff0000", "strokeOpacity": 0.35, "strokeWidth": 1}, "encoding": {"x": {"field": "t", "type": "quantitative", "scale": {"domain": [0, 1.5], "nice": false}}, "y": {"field": "lo", "type": "quantitative", "scale": {"domain": [-0.63, 0.5], "nice": false, "zero": false}}, "y2": {"field": "hi"}}},
  {"transform": [{"filter": "datum.g=='P'"}], "mark": {"type": "line", "strokeWidth": 5.5, "strokeJoin": "round"}, "encoding": {"x": {"field": "t", "type": "quantitative", "scale": {"domain": [0, 1.5], "nice": false}}, "y": {"field": "m", "type": "quantitative", "scale": {"domain": [-0.63, 0.5], "nice": false, "zero": false}}, "color": {"field": "g", "type": "nominal", "scale": {"domain": ["Y", "O", "P"], "range": ["#000000", "#0000ff", "#ff0000"]}, "legend": {"title": null, "labelExpr": "datum.label == 'Y' ? 'Young Healthy' : datum.label == 'O' ? 'Older Healthy' : \"People with Parkinson's\""}}}},
  {"transform": [{"aggregate": [{"op": "count", "as": "n"}]}], "mark": {"type": "text", "font": "DejaVu Sans", "fontSize": 22, "color": "#000000", "align": "center", "baseline": "alphabetic", "dy": -11, "clip": false}, "encoding": {"x": {"datum": -0.36, "type": "quantitative", "scale": {"domain": [0, 1.5], "nice": false}}, "y": {"datum": 0.5, "type": "quantitative", "scale": {"domain": [-0.63, 0.5], "nice": false, "zero": false}}, "text": {"value": "(B)"}}},
  {"transform": [{"aggregate": [{"op": "count", "as": "n"}]}], "mark": {"type": "text", "font": "DejaVu Sans", "fontSize": 22, "fontWeight": "bold", "color": "#000000", "align": "center", "baseline": "alphabetic", "dy": -9, "clip": false}, "encoding": {"x": {"datum": 0.75, "type": "quantitative", "scale": {"domain": [0, 1.5], "nice": false}}, "y": {"datum": 0.5, "type": "quantitative", "scale": {"domain": [-0.63, 0.5], "nice": false, "zero": false}}, "text": {"value": "Shank Velocity, StSi"}}}
 ]},
{"width": 236, "height": 252, "data": {"name": "d"}, "transform": [{"filter": "datum.p=='C'"}],
 "layer": [
  {"transform": [{"filter": "datum.g=='Y'"}], "mark": {"type": "area", "fill": "#000000", "fillOpacity": 0.16, "stroke": "#000000", "strokeOpacity": 0.35, "strokeWidth": 1}, "encoding": {"x": {"field": "t", "type": "quantitative", "scale": {"domain": [0, 1.5], "nice": false}, "axis": {"values": [0, 0.5, 1, 1.5], "title": null}}, "y": {"field": "lo", "type": "quantitative", "scale": {"domain": [-2, 2], "nice": false, "zero": false}, "axis": {"values": [-2, -1, 0, 1, 2], "title": "ω (rad/s)", "labelExpr": "datum.value < 0 ? '-' + format(-datum.value, '~g') : format(datum.value, '~g')"}}, "y2": {"field": "hi"}}},
  {"transform": [{"filter": "datum.g=='Y'"}], "mark": {"type": "line", "strokeWidth": 5.5, "strokeJoin": "round"}, "encoding": {"x": {"field": "t", "type": "quantitative", "scale": {"domain": [0, 1.5], "nice": false}}, "y": {"field": "m", "type": "quantitative", "scale": {"domain": [-2, 2], "nice": false, "zero": false}}, "color": {"field": "g", "type": "nominal", "scale": {"domain": ["Y", "O", "P"], "range": ["#000000", "#0000ff", "#ff0000"]}, "legend": {"title": null, "labelExpr": "datum.label == 'Y' ? 'Young Healthy' : datum.label == 'O' ? 'Older Healthy' : \"People with Parkinson's\""}}}},
  {"transform": [{"filter": "datum.g=='O'"}], "mark": {"type": "area", "fill": "#0000ff", "fillOpacity": 0.17, "stroke": "#0000ff", "strokeOpacity": 0.35, "strokeWidth": 1}, "encoding": {"x": {"field": "t", "type": "quantitative", "scale": {"domain": [0, 1.5], "nice": false}}, "y": {"field": "lo", "type": "quantitative", "scale": {"domain": [-2, 2], "nice": false, "zero": false}}, "y2": {"field": "hi"}}},
  {"transform": [{"filter": "datum.g=='O'"}], "mark": {"type": "line", "strokeWidth": 5.5, "strokeJoin": "round"}, "encoding": {"x": {"field": "t", "type": "quantitative", "scale": {"domain": [0, 1.5], "nice": false}}, "y": {"field": "m", "type": "quantitative", "scale": {"domain": [-2, 2], "nice": false, "zero": false}}, "color": {"field": "g", "type": "nominal", "scale": {"domain": ["Y", "O", "P"], "range": ["#000000", "#0000ff", "#ff0000"]}, "legend": {"title": null, "labelExpr": "datum.label == 'Y' ? 'Young Healthy' : datum.label == 'O' ? 'Older Healthy' : \"People with Parkinson's\""}}}},
  {"transform": [{"filter": "datum.g=='P'"}], "mark": {"type": "area", "fill": "#ff0000", "fillOpacity": 0.17, "stroke": "#ff0000", "strokeOpacity": 0.35, "strokeWidth": 1}, "encoding": {"x": {"field": "t", "type": "quantitative", "scale": {"domain": [0, 1.5], "nice": false}}, "y": {"field": "lo", "type": "quantitative", "scale": {"domain": [-2, 2], "nice": false, "zero": false}}, "y2": {"field": "hi"}}},
  {"transform": [{"filter": "datum.g=='P'"}], "mark": {"type": "line", "strokeWidth": 5.5, "strokeJoin": "round"}, "encoding": {"x": {"field": "t", "type": "quantitative", "scale": {"domain": [0, 1.5], "nice": false}}, "y": {"field": "m", "type": "quantitative", "scale": {"domain": [-2, 2], "nice": false, "zero": false}}, "color": {"field": "g", "type": "nominal", "scale": {"domain": ["Y", "O", "P"], "range": ["#000000", "#0000ff", "#ff0000"]}, "legend": {"title": null, "labelExpr": "datum.label == 'Y' ? 'Young Healthy' : datum.label == 'O' ? 'Older Healthy' : \"People with Parkinson's\""}}}},
  {"transform": [{"aggregate": [{"op": "count", "as": "n"}]}], "mark": {"type": "text", "font": "DejaVu Sans", "fontSize": 22, "color": "#000000", "align": "center", "baseline": "alphabetic", "dy": -11, "clip": false}, "encoding": {"x": {"datum": -0.36, "type": "quantitative", "scale": {"domain": [0, 1.5], "nice": false}}, "y": {"datum": 2, "type": "quantitative", "scale": {"domain": [-2, 2], "nice": false, "zero": false}}, "text": {"value": "(C)"}}},
  {"transform": [{"aggregate": [{"op": "count", "as": "n"}]}], "mark": {"type": "text", "font": "DejaVu Sans", "fontSize": 22, "fontWeight": "bold", "color": "#000000", "align": "center", "baseline": "alphabetic", "dy": -9, "clip": false}, "encoding": {"x": {"datum": 0.75, "type": "quantitative", "scale": {"domain": [0, 1.5], "nice": false}}, "y": {"datum": 2, "type": "quantitative", "scale": {"domain": [-2, 2], "nice": false, "zero": false}}, "text": {"value": "Back Velocity, SiSt"}}}
 ]},
{"width": 239, "height": 252, "data": {"name": "d"}, "transform": [{"filter": "datum.p=='D'"}],
 "layer": [
  {"transform": [{"filter": "datum.g=='Y'"}], "mark": {"type": "area", "fill": "#000000", "fillOpacity": 0.16, "stroke": "#000000", "strokeOpacity": 0.35, "strokeWidth": 1}, "encoding": {"x": {"field": "t", "type": "quantitative", "scale": {"domain": [0, 1.5], "nice": false}, "axis": {"values": [0, 0.5, 1, 1.5], "title": null}}, "y": {"field": "lo", "type": "quantitative", "scale": {"domain": [-2.12, 2], "nice": false, "zero": false}, "axis": {"values": [-2, -1, 0, 1, 2], "title": "ω (rad/s)", "labelExpr": "datum.value < 0 ? '-' + format(-datum.value, '~g') : format(datum.value, '~g')"}}, "y2": {"field": "hi"}}},
  {"transform": [{"filter": "datum.g=='Y'"}], "mark": {"type": "line", "strokeWidth": 5.5, "strokeJoin": "round"}, "encoding": {"x": {"field": "t", "type": "quantitative", "scale": {"domain": [0, 1.5], "nice": false}}, "y": {"field": "m", "type": "quantitative", "scale": {"domain": [-2.12, 2], "nice": false, "zero": false}}, "color": {"field": "g", "type": "nominal", "scale": {"domain": ["Y", "O", "P"], "range": ["#000000", "#0000ff", "#ff0000"]}, "legend": {"title": null, "labelExpr": "datum.label == 'Y' ? 'Young Healthy' : datum.label == 'O' ? 'Older Healthy' : \"People with Parkinson's\""}}}},
  {"transform": [{"filter": "datum.g=='O'"}], "mark": {"type": "area", "fill": "#0000ff", "fillOpacity": 0.17, "stroke": "#0000ff", "strokeOpacity": 0.35, "strokeWidth": 1}, "encoding": {"x": {"field": "t", "type": "quantitative", "scale": {"domain": [0, 1.5], "nice": false}}, "y": {"field": "lo", "type": "quantitative", "scale": {"domain": [-2.12, 2], "nice": false, "zero": false}}, "y2": {"field": "hi"}}},
  {"transform": [{"filter": "datum.g=='O'"}], "mark": {"type": "line", "strokeWidth": 5.5, "strokeJoin": "round"}, "encoding": {"x": {"field": "t", "type": "quantitative", "scale": {"domain": [0, 1.5], "nice": false}}, "y": {"field": "m", "type": "quantitative", "scale": {"domain": [-2.12, 2], "nice": false, "zero": false}}, "color": {"field": "g", "type": "nominal", "scale": {"domain": ["Y", "O", "P"], "range": ["#000000", "#0000ff", "#ff0000"]}, "legend": {"title": null, "labelExpr": "datum.label == 'Y' ? 'Young Healthy' : datum.label == 'O' ? 'Older Healthy' : \"People with Parkinson's\""}}}},
  {"transform": [{"filter": "datum.g=='P'"}], "mark": {"type": "area", "fill": "#ff0000", "fillOpacity": 0.17, "stroke": "#ff0000", "strokeOpacity": 0.35, "strokeWidth": 1}, "encoding": {"x": {"field": "t", "type": "quantitative", "scale": {"domain": [0, 1.5], "nice": false}}, "y": {"field": "lo", "type": "quantitative", "scale": {"domain": [-2.12, 2], "nice": false, "zero": false}}, "y2": {"field": "hi"}}},
  {"transform": [{"filter": "datum.g=='P'"}], "mark": {"type": "line", "strokeWidth": 5.5, "strokeJoin": "round"}, "encoding": {"x": {"field": "t", "type": "quantitative", "scale": {"domain": [0, 1.5], "nice": false}}, "y": {"field": "m", "type": "quantitative", "scale": {"domain": [-2.12, 2], "nice": false, "zero": false}}, "color": {"field": "g", "type": "nominal", "scale": {"domain": ["Y", "O", "P"], "range": ["#000000", "#0000ff", "#ff0000"]}, "legend": {"title": null, "labelExpr": "datum.label == 'Y' ? 'Young Healthy' : datum.label == 'O' ? 'Older Healthy' : \"People with Parkinson's\""}}}},
  {"transform": [{"aggregate": [{"op": "count", "as": "n"}]}], "mark": {"type": "text", "font": "DejaVu Sans", "fontSize": 22, "color": "#000000", "align": "center", "baseline": "alphabetic", "dy": -11, "clip": false}, "encoding": {"x": {"datum": -0.36, "type": "quantitative", "scale": {"domain": [0, 1.5], "nice": false}}, "y": {"datum": 2, "type": "quantitative", "scale": {"domain": [-2.12, 2], "nice": false, "zero": false}}, "text": {"value": "(D)"}}},
  {"transform": [{"aggregate": [{"op": "count", "as": "n"}]}], "mark": {"type": "text", "font": "DejaVu Sans", "fontSize": 22, "fontWeight": "bold", "color": "#000000", "align": "center", "baseline": "alphabetic", "dy": -9, "clip": false}, "encoding": {"x": {"datum": 0.75, "type": "quantitative", "scale": {"domain": [0, 1.5], "nice": false}}, "y": {"datum": 2, "type": "quantitative", "scale": {"domain": [-2.12, 2], "nice": false, "zero": false}}, "text": {"value": "Back Velocity, StSi"}}}
 ]},
{"width": 236, "height": 252, "data": {"name": "d"}, "transform": [{"filter": "datum.p=='E'"}],
 "layer": [
  {"transform": [{"filter": "datum.g=='Y'"}], "mark": {"type": "area", "fill": "#000000", "fillOpacity": 0.16, "stroke": "#000000", "strokeOpacity": 0.35, "strokeWidth": 1}, "encoding": {"x": {"field": "t", "type": "quantitative", "scale": {"domain": [0, 1.5], "nice": false}, "axis": {"values": [0, 0.5, 1, 1.5], "title": null}}, "y": {"field": "lo", "type": "quantitative", "scale": {"domain": [-20.8, 10], "nice": false, "zero": false}, "axis": {"values": [-20, -10, 0, 10], "title": "θ (deg)", "labelExpr": "datum.value < 0 ? '-' + format(-datum.value, '~g') : format(datum.value, '~g')"}}, "y2": {"field": "hi"}}},
  {"transform": [{"filter": "datum.g=='Y'"}], "mark": {"type": "line", "strokeWidth": 5.5, "strokeJoin": "round"}, "encoding": {"x": {"field": "t", "type": "quantitative", "scale": {"domain": [0, 1.5], "nice": false}}, "y": {"field": "m", "type": "quantitative", "scale": {"domain": [-20.8, 10], "nice": false, "zero": false}}, "color": {"field": "g", "type": "nominal", "scale": {"domain": ["Y", "O", "P"], "range": ["#000000", "#0000ff", "#ff0000"]}, "legend": {"title": null, "labelExpr": "datum.label == 'Y' ? 'Young Healthy' : datum.label == 'O' ? 'Older Healthy' : \"People with Parkinson's\""}}}},
  {"transform": [{"filter": "datum.g=='O'"}], "mark": {"type": "area", "fill": "#0000ff", "fillOpacity": 0.17, "stroke": "#0000ff", "strokeOpacity": 0.35, "strokeWidth": 1}, "encoding": {"x": {"field": "t", "type": "quantitative", "scale": {"domain": [0, 1.5], "nice": false}}, "y": {"field": "lo", "type": "quantitative", "scale": {"domain": [-20.8, 10], "nice": false, "zero": false}}, "y2": {"field": "hi"}}},
  {"transform": [{"filter": "datum.g=='O'"}], "mark": {"type": "line", "strokeWidth": 5.5, "strokeJoin": "round"}, "encoding": {"x": {"field": "t", "type": "quantitative", "scale": {"domain": [0, 1.5], "nice": false}}, "y": {"field": "m", "type": "quantitative", "scale": {"domain": [-20.8, 10], "nice": false, "zero": false}}, "color": {"field": "g", "type": "nominal", "scale": {"domain": ["Y", "O", "P"], "range": ["#000000", "#0000ff", "#ff0000"]}, "legend": {"title": null, "labelExpr": "datum.label == 'Y' ? 'Young Healthy' : datum.label == 'O' ? 'Older Healthy' : \"People with Parkinson's\""}}}},
  {"transform": [{"filter": "datum.g=='P'"}], "mark": {"type": "area", "fill": "#ff0000", "fillOpacity": 0.17, "stroke": "#ff0000", "strokeOpacity": 0.35, "strokeWidth": 1}, "encoding": {"x": {"field": "t", "type": "quantitative", "scale": {"domain": [0, 1.5], "nice": false}}, "y": {"field": "lo", "type": "quantitative", "scale": {"domain": [-20.8, 10], "nice": false, "zero": false}}, "y2": {"field": "hi"}}},
  {"transform": [{"filter": "datum.g=='P'"}], "mark": {"type": "line", "strokeWidth": 5.5, "strokeJoin": "round"}, "encoding": {"x": {"field": "t", "type": "quantitative", "scale": {"domain": [0, 1.5], "nice": false}}, "y": {"field": "m", "type": "quantitative", "scale": {"domain": [-20.8, 10], "nice": false, "zero": false}}, "color": {"field": "g", "type": "nominal", "scale": {"domain": ["Y", "O", "P"], "range": ["#000000", "#0000ff", "#ff0000"]}, "legend": {"title": null, "labelExpr": "datum.label == 'Y' ? 'Young Healthy' : datum.label == 'O' ? 'Older Healthy' : \"People with Parkinson's\""}}}},
  {"transform": [{"aggregate": [{"op": "count", "as": "n"}]}], "mark": {"type": "text", "font": "DejaVu Sans", "fontSize": 22, "color": "#000000", "align": "center", "baseline": "alphabetic", "dy": -11, "clip": false}, "encoding": {"x": {"datum": -0.36, "type": "quantitative", "scale": {"domain": [0, 1.5], "nice": false}}, "y": {"datum": 10, "type": "quantitative", "scale": {"domain": [-20.8, 10], "nice": false, "zero": false}}, "text": {"value": "(E)"}}},
  {"transform": [{"aggregate": [{"op": "count", "as": "n"}]}], "mark": {"type": "text", "font": "DejaVu Sans", "fontSize": 22, "fontWeight": "bold", "color": "#000000", "align": "center", "baseline": "alphabetic", "dy": -9, "clip": false}, "encoding": {"x": {"datum": 0.75, "type": "quantitative", "scale": {"domain": [0, 1.5], "nice": false}}, "y": {"datum": 10, "type": "quantitative", "scale": {"domain": [-20.8, 10], "nice": false, "zero": false}}, "text": {"value": "Shank Angle, SiSt"}}}
 ]},
{"width": 239, "height": 252, "data": {"name": "d"}, "transform": [{"filter": "datum.p=='F'"}],
 "layer": [
  {"transform": [{"filter": "datum.g=='Y'"}], "mark": {"type": "area", "fill": "#000000", "fillOpacity": 0.16, "stroke": "#000000", "strokeOpacity": 0.35, "strokeWidth": 1}, "encoding": {"x": {"field": "t", "type": "quantitative", "scale": {"domain": [0, 1.5], "nice": false}, "axis": {"values": [0, 0.5, 1, 1.5], "title": null}}, "y": {"field": "lo", "type": "quantitative", "scale": {"domain": [-20.2, 10], "nice": false, "zero": false}, "axis": {"values": [-20, -10, 0, 10], "title": "θ (deg)", "labelExpr": "datum.value < 0 ? '-' + format(-datum.value, '~g') : format(datum.value, '~g')"}}, "y2": {"field": "hi"}}},
  {"transform": [{"filter": "datum.g=='Y'"}], "mark": {"type": "line", "strokeWidth": 5.5, "strokeJoin": "round"}, "encoding": {"x": {"field": "t", "type": "quantitative", "scale": {"domain": [0, 1.5], "nice": false}}, "y": {"field": "m", "type": "quantitative", "scale": {"domain": [-20.2, 10], "nice": false, "zero": false}}, "color": {"field": "g", "type": "nominal", "scale": {"domain": ["Y", "O", "P"], "range": ["#000000", "#0000ff", "#ff0000"]}, "legend": {"title": null, "labelExpr": "datum.label == 'Y' ? 'Young Healthy' : datum.label == 'O' ? 'Older Healthy' : \"People with Parkinson's\""}}}},
  {"transform": [{"filter": "datum.g=='O'"}], "mark": {"type": "area", "fill": "#0000ff", "fillOpacity": 0.17, "stroke": "#0000ff", "strokeOpacity": 0.35, "strokeWidth": 1}, "encoding": {"x": {"field": "t", "type": "quantitative", "scale": {"domain": [0, 1.5], "nice": false}}, "y": {"field": "lo", "type": "quantitative", "scale": {"domain": [-20.2, 10], "nice": false, "zero": false}}, "y2": {"field": "hi"}}},
  {"transform": [{"filter": "datum.g=='O'"}], "mark": {"type": "line", "strokeWidth": 5.5, "strokeJoin": "round"}, "encoding": {"x": {"field": "t", "type": "quantitative", "scale": {"domain": [0, 1.5], "nice": false}}, "y": {"field": "m", "type": "quantitative", "scale": {"domain": [-20.2, 10], "nice": false, "zero": false}}, "color": {"field": "g", "type": "nominal", "scale": {"domain": ["Y", "O", "P"], "range": ["#000000", "#0000ff", "#ff0000"]}, "legend": {"title": null, "labelExpr": "datum.label == 'Y' ? 'Young Healthy' : datum.label == 'O' ? 'Older Healthy' : \"People with Parkinson's\""}}}},
  {"transform": [{"filter": "datum.g=='P'"}], "mark": {"type": "area", "fill": "#ff0000", "fillOpacity": 0.17, "stroke": "#ff0000", "strokeOpacity": 0.35, "strokeWidth": 1}, "encoding": {"x": {"field": "t", "type": "quantitative", "scale": {"domain": [0, 1.5], "nice": false}}, "y": {"field": "lo", "type": "quantitative", "scale": {"domain": [-20.2, 10], "nice": false, "zero": false}}, "y2": {"field": "hi"}}},
  {"transform": [{"filter": "datum.g=='P'"}], "mark": {"type": "line", "strokeWidth": 5.5, "strokeJoin": "round"}, "encoding": {"x": {"field": "t", "type": "quantitative", "scale": {"domain": [0, 1.5], "nice": false}}, "y": {"field": "m", "type": "quantitative", "scale": {"domain": [-20.2, 10], "nice": false, "zero": false}}, "color": {"field": "g", "type": "nominal", "scale": {"domain": ["Y", "O", "P"], "range": ["#000000", "#0000ff", "#ff0000"]}, "legend": {"title": null, "labelExpr": "datum.label == 'Y' ? 'Young Healthy' : datum.label == 'O' ? 'Older Healthy' : \"People with Parkinson's\""}}}},
  {"transform": [{"aggregate": [{"op": "count", "as": "n"}]}], "mark": {"type": "text", "font": "DejaVu Sans", "fontSize": 22, "color": "#000000", "align": "center", "baseline": "alphabetic", "dy": -11, "clip": false}, "encoding": {"x": {"datum": -0.36, "type": "quantitative", "scale": {"domain": [0, 1.5], "nice": false}}, "y": {"datum": 10, "type": "quantitative", "scale": {"domain": [-20.2, 10], "nice": false, "zero": false}}, "text": {"value": "(F)"}}},
  {"transform": [{"aggregate": [{"op": "count", "as": "n"}]}], "mark": {"type": "text", "font": "DejaVu Sans", "fontSize": 22, "fontWeight": "bold", "color": "#000000", "align": "center", "baseline": "alphabetic", "dy": -9, "clip": false}, "encoding": {"x": {"datum": 0.75, "type": "quantitative", "scale": {"domain": [0, 1.5], "nice": false}}, "y": {"datum": 10, "type": "quantitative", "scale": {"domain": [-20.2, 10], "nice": false, "zero": false}}, "text": {"value": "Shank Angle, StSi"}}}
 ]},
{"width": 236, "height": 252, "data": {"name": "d"}, "transform": [{"filter": "datum.p=='G'"}],
 "layer": [
  {"transform": [{"filter": "datum.g=='Y'"}], "mark": {"type": "area", "fill": "#000000", "fillOpacity": 0.16, "stroke": "#000000", "strokeOpacity": 0.35, "strokeWidth": 1}, "encoding": {"x": {"field": "t", "type": "quantitative", "scale": {"domain": [0, 1.5], "nice": false}, "axis": {"values": [0, 0.5, 1, 1.5], "title": "Time (s)"}}, "y": {"field": "lo", "type": "quantitative", "scale": {"domain": [-21, 10], "nice": false, "zero": false}, "axis": {"values": [-20, -10, 0, 10], "title": "θ (deg)", "labelExpr": "datum.value < 0 ? '-' + format(-datum.value, '~g') : format(datum.value, '~g')"}}, "y2": {"field": "hi"}}},
  {"transform": [{"filter": "datum.g=='Y'"}], "mark": {"type": "line", "strokeWidth": 5.5, "strokeJoin": "round"}, "encoding": {"x": {"field": "t", "type": "quantitative", "scale": {"domain": [0, 1.5], "nice": false}}, "y": {"field": "m", "type": "quantitative", "scale": {"domain": [-21, 10], "nice": false, "zero": false}}, "color": {"field": "g", "type": "nominal", "scale": {"domain": ["Y", "O", "P"], "range": ["#000000", "#0000ff", "#ff0000"]}, "legend": {"title": null, "labelExpr": "datum.label == 'Y' ? 'Young Healthy' : datum.label == 'O' ? 'Older Healthy' : \"People with Parkinson's\""}}}},
  {"transform": [{"filter": "datum.g=='O'"}], "mark": {"type": "area", "fill": "#0000ff", "fillOpacity": 0.17, "stroke": "#0000ff", "strokeOpacity": 0.35, "strokeWidth": 1}, "encoding": {"x": {"field": "t", "type": "quantitative", "scale": {"domain": [0, 1.5], "nice": false}}, "y": {"field": "lo", "type": "quantitative", "scale": {"domain": [-21, 10], "nice": false, "zero": false}}, "y2": {"field": "hi"}}},
  {"transform": [{"filter": "datum.g=='O'"}], "mark": {"type": "line", "strokeWidth": 5.5, "strokeJoin": "round"}, "encoding": {"x": {"field": "t", "type": "quantitative", "scale": {"domain": [0, 1.5], "nice": false}}, "y": {"field": "m", "type": "quantitative", "scale": {"domain": [-21, 10], "nice": false, "zero": false}}, "color": {"field": "g", "type": "nominal", "scale": {"domain": ["Y", "O", "P"], "range": ["#000000", "#0000ff", "#ff0000"]}, "legend": {"title": null, "labelExpr": "datum.label == 'Y' ? 'Young Healthy' : datum.label == 'O' ? 'Older Healthy' : \"People with Parkinson's\""}}}},
  {"transform": [{"filter": "datum.g=='P'"}], "mark": {"type": "area", "fill": "#ff0000", "fillOpacity": 0.17, "stroke": "#ff0000", "strokeOpacity": 0.35, "strokeWidth": 1}, "encoding": {"x": {"field": "t", "type": "quantitative", "scale": {"domain": [0, 1.5], "nice": false}}, "y": {"field": "lo", "type": "quantitative", "scale": {"domain": [-21, 10], "nice": false, "zero": false}}, "y2": {"field": "hi"}}},
  {"transform": [{"filter": "datum.g=='P'"}], "mark": {"type": "line", "strokeWidth": 5.5, "strokeJoin": "round"}, "encoding": {"x": {"field": "t", "type": "quantitative", "scale": {"domain": [0, 1.5], "nice": false}}, "y": {"field": "m", "type": "quantitative", "scale": {"domain": [-21, 10], "nice": false, "zero": false}}, "color": {"field": "g", "type": "nominal", "scale": {"domain": ["Y", "O", "P"], "range": ["#000000", "#0000ff", "#ff0000"]}, "legend": {"title": null, "labelExpr": "datum.label == 'Y' ? 'Young Healthy' : datum.label == 'O' ? 'Older Healthy' : \"People with Parkinson's\""}}}},
  {"transform": [{"aggregate": [{"op": "count", "as": "n"}]}], "mark": {"type": "text", "font": "DejaVu Sans", "fontSize": 22, "color": "#000000", "align": "center", "baseline": "alphabetic", "dy": -11, "clip": false}, "encoding": {"x": {"datum": -0.36, "type": "quantitative", "scale": {"domain": [0, 1.5], "nice": false}}, "y": {"datum": 10, "type": "quantitative", "scale": {"domain": [-21, 10], "nice": false, "zero": false}}, "text": {"value": "(G)"}}},
  {"transform": [{"aggregate": [{"op": "count", "as": "n"}]}], "mark": {"type": "text", "font": "DejaVu Sans", "fontSize": 22, "fontWeight": "bold", "color": "#000000", "align": "center", "baseline": "alphabetic", "dy": -9, "clip": false}, "encoding": {"x": {"datum": 0.75, "type": "quantitative", "scale": {"domain": [0, 1.5], "nice": false}}, "y": {"datum": 10, "type": "quantitative", "scale": {"domain": [-21, 10], "nice": false, "zero": false}}, "text": {"value": "Back Angle, SiSt"}}}
 ]},
{"width": 239, "height": 252, "data": {"name": "d"}, "transform": [{"filter": "datum.p=='H'"}],
 "layer": [
  {"transform": [{"filter": "datum.g=='Y'"}], "mark": {"type": "area", "fill": "#000000", "fillOpacity": 0.16, "stroke": "#000000", "strokeOpacity": 0.35, "strokeWidth": 1}, "encoding": {"x": {"field": "t", "type": "quantitative", "scale": {"domain": [0, 1.5], "nice": false}, "axis": {"values": [0, 0.5, 1, 1.5], "title": "Time (s)"}}, "y": {"field": "lo", "type": "quantitative", "scale": {"domain": [-60, 40], "nice": false, "zero": false}, "axis": {"values": [-60, -40, -20, 0, 20, 40], "title": "θ (deg)", "labelExpr": "datum.value < 0 ? '-' + format(-datum.value, '~g') : format(datum.value, '~g')"}}, "y2": {"field": "hi"}}},
  {"transform": [{"filter": "datum.g=='Y'"}], "mark": {"type": "line", "strokeWidth": 5.5, "strokeJoin": "round"}, "encoding": {"x": {"field": "t", "type": "quantitative", "scale": {"domain": [0, 1.5], "nice": false}}, "y": {"field": "m", "type": "quantitative", "scale": {"domain": [-60, 40], "nice": false, "zero": false}}, "color": {"field": "g", "type": "nominal", "scale": {"domain": ["Y", "O", "P"], "range": ["#000000", "#0000ff", "#ff0000"]}, "legend": {"title": null, "labelExpr": "datum.label == 'Y' ? 'Young Healthy' : datum.label == 'O' ? 'Older Healthy' : \"People with Parkinson's\""}}}},
  {"transform": [{"filter": "datum.g=='O'"}], "mark": {"type": "area", "fill": "#0000ff", "fillOpacity": 0.17, "stroke": "#0000ff", "strokeOpacity": 0.35, "strokeWidth": 1}, "encoding": {"x": {"field": "t", "type": "quantitative", "scale": {"domain": [0, 1.5], "nice": false}}, "y": {"field": "lo", "type": "quantitative", "scale": {"domain": [-60, 40], "nice": false, "zero": false}}, "y2": {"field": "hi"}}},
  {"transform": [{"filter": "datum.g=='O'"}], "mark": {"type": "line", "strokeWidth": 5.5, "strokeJoin": "round"}, "encoding": {"x": {"field": "t", "type": "quantitative", "scale": {"domain": [0, 1.5], "nice": false}}, "y": {"field": "m", "type": "quantitative", "scale": {"domain": [-60, 40], "nice": false, "zero": false}}, "color": {"field": "g", "type": "nominal", "scale": {"domain": ["Y", "O", "P"], "range": ["#000000", "#0000ff", "#ff0000"]}, "legend": {"title": null, "labelExpr": "datum.label == 'Y' ? 'Young Healthy' : datum.label == 'O' ? 'Older Healthy' : \"People with Parkinson's\""}}}},
  {"transform": [{"filter": "datum.g=='P'"}], "mark": {"type": "area", "fill": "#ff0000", "fillOpacity": 0.17, "stroke": "#ff0000", "strokeOpacity": 0.35, "strokeWidth": 1}, "encoding": {"x": {"field": "t", "type": "quantitative", "scale": {"domain": [0, 1.5], "nice": false}}, "y": {"field": "lo", "type": "quantitative", "scale": {"domain": [-60, 40], "nice": false, "zero": false}}, "y2": {"field": "hi"}}},
  {"transform": [{"filter": "datum.g=='P'"}], "mark": {"type": "line", "strokeWidth": 5.5, "strokeJoin": "round"}, "encoding": {"x": {"field": "t", "type": "quantitative", "scale": {"domain": [0, 1.5], "nice": false}}, "y": {"field": "m", "type": "quantitative", "scale": {"domain": [-60, 40], "nice": false, "zero": false}}, "color": {"field": "g", "type": "nominal", "scale": {"domain": ["Y", "O", "P"], "range": ["#000000", "#0000ff", "#ff0000"]}, "legend": {"title": null, "labelExpr": "datum.label == 'Y' ? 'Young Healthy' : datum.label == 'O' ? 'Older Healthy' : \"People with Parkinson's\""}}}},
  {"transform": [{"aggregate": [{"op": "count", "as": "n"}]}], "mark": {"type": "text", "font": "DejaVu Sans", "fontSize": 22, "color": "#000000", "align": "center", "baseline": "alphabetic", "dy": -11, "clip": false}, "encoding": {"x": {"datum": -0.36, "type": "quantitative", "scale": {"domain": [0, 1.5], "nice": false}}, "y": {"datum": 40, "type": "quantitative", "scale": {"domain": [-60, 40], "nice": false, "zero": false}}, "text": {"value": "(H)"}}},
  {"transform": [{"aggregate": [{"op": "count", "as": "n"}]}], "mark": {"type": "text", "font": "DejaVu Sans", "fontSize": 22, "fontWeight": "bold", "color": "#000000", "align": "center", "baseline": "alphabetic", "dy": -9, "clip": false}, "encoding": {"x": {"datum": 0.75, "type": "quantitative", "scale": {"domain": [0, 1.5], "nice": false}}, "y": {"datum": 40, "type": "quantitative", "scale": {"domain": [-60, 40], "nice": false, "zero": false}}, "text": {"value": "Back Angle, StSi"}}}
 ]}
]
}
